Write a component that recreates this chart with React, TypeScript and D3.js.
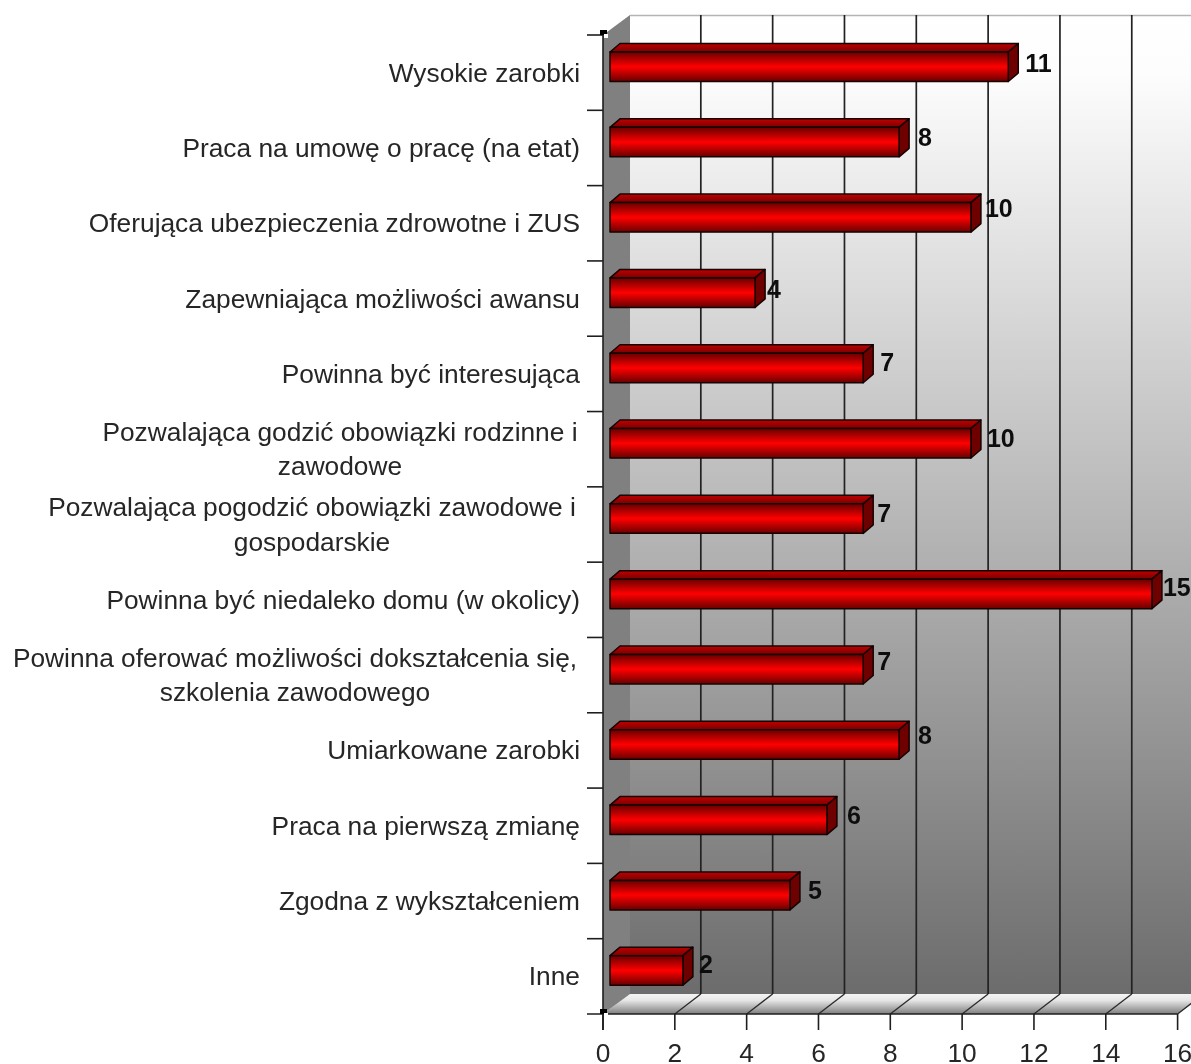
import React from "react";
import * as d3 from "d3";

const categories = [
  "Wysokie zarobki",
  "Praca na umowę o pracę (na etat)",
  "Oferująca ubezpieczenia zdrowotne i ZUS",
  "Zapewniająca możliwości awansu",
  "Powinna być interesująca",
  "Pozwalająca godzić obowiązki rodzinne i|zawodowe",
  "Pozwalająca pogodzić obowiązki zawodowe i|gospodarskie",
  "Powinna być niedaleko domu (w okolicy)",
  "Powinna oferować możliwości dokształcenia się,|szkolenia zawodowego",
  "Umiarkowane zarobki",
  "Praca na pierwszą zmianę",
  "Zgodna z wykształceniem",
  "Inne",
];
const barValues = [11.09, 8.05, 10.05, 4.04, 7.05, 10.05, 7.05, 15.09, 7.05, 8.05, 6.04, 5.01, 2.03];
const valueLabels = ["11", "8", "10", "4", "7", "10", "7", "15", "7", "8", "6", "5", "2"];
const xTicks = [0, 2, 4, 6, 8, 10, 12, 14, 16];

// hand placement of the value labels, relative to the bar end / front top
const labelDx = [7, 9, 4, 2, 7, 6, 4, 1, 4, 9, 10, 8, 6];
const labelDy = [20, 19, 14, 20, 18, 18, 18, 17, 16, 14, 19, 19, 17];

const W = 1191, H = 1064;
const x = d3.scaleLinear().domain([0, 16]).range([603, 1177.6]);
const y = d3.scaleBand<string>().domain(categories).range([35, 1014]);
const depthX = 27, depthY = 20;
const barDX = 7, barTopOff = 17, barH = 29.5, capX = 10, capY = 8.5;
const top = 35, bottom = 1014;
const textCol = "#262626";
const font = "'Liberation Sans', Arial, sans-serif";
const wrapCenters: Record<number, number> = { 5: 340, 6: 312, 8: 295 };

function poly(p: number[][]) {
  return d3.line()(p as [number, number][]) + "Z";
}

export default function App() {
  return (
    <svg width={W} height={H} viewBox={`0 0 ${W} ${H}`} style={{ position: "absolute", left: 0, top: 0, display: "block", background: "#fff" }} fontFamily={font}>
      <defs>
        <linearGradient id="wall" x1="0" y1="0" x2="0" y2="1">
          <stop offset="0" stopColor="#ffffff" />
          <stop offset="0.06" stopColor="#fdfdfd" />
          <stop offset="1" stopColor="#6c6c6c" />
        </linearGradient>
        <linearGradient id="floor" x1="0" y1="0" x2="0" y2="1">
          <stop offset="0" stopColor="#f4f4f4" />
          <stop offset="0.3" stopColor="#e8e8e8" />
          <stop offset="1" stopColor="#7e7e7e" />
        </linearGradient>
        <linearGradient id="front" x1="0" y1="0" x2="0" y2="1">
          <stop offset="0" stopColor="#680000" />
          <stop offset="0.5" stopColor="#ff0000" />
          <stop offset="1" stopColor="#680000" />
        </linearGradient>
        <linearGradient id="cap" x1="0" y1="0" x2="0" y2="1">
          <stop offset="0" stopColor="#c00000" />
          <stop offset="1" stopColor="#7a0000" />
        </linearGradient>
        <filter id="soft" x="-2%" y="-20%" width="104%" height="140%">
          <feGaussianBlur stdDeviation="0.35" />
        </filter>
      </defs>

      <rect x={x(0) + depthX} y={top - depthY} width={W} height={bottom - top} fill="url(#wall)" />
      <line x1={x(0) + depthX} x2={W} y1={top - depthY + 0.5} y2={top - depthY + 0.5} stroke="#b4b4b4" strokeWidth={1.5} />
      {xTicks.slice(1).map((t) => (
        <line key={t} x1={x(t) + depthX - 1} x2={x(t) + depthX - 1} y1={top - depthY} y2={bottom - depthY} stroke="#222" strokeWidth={1.7} />
      ))}
      <path d={poly([[x(0), bottom], [x(0) + depthX, bottom - depthY], [x(16) + depthX, bottom - depthY], [x(16), bottom]])} fill="url(#floor)" />
      {xTicks.slice(1).map((t) => (
        <line key={t} x1={x(t)} x2={x(t) + depthX - 1} y1={bottom} y2={bottom - depthY} stroke="#2a2a2a" strokeWidth={1.3} />
      ))}
      <path d={poly([[x(0), top], [x(0) + depthX, top - depthY], [x(0) + depthX, bottom - depthY], [x(0), bottom]])} fill="#808080" />

      {categories.map((c, i) => {
        const v = barValues[i];
        const x0 = x(0) + barDX;
        const x1 = x(v) + barDX;
        const yt = y(c)! + barTopOff;
        const yb = yt + barH;
        return (
          <g key={c} stroke="#160000" strokeWidth={1.5} strokeLinejoin="round">
            <path d={poly([[x0, yt], [x0 + capX, yt - capY], [x1 + capX, yt - capY], [x1, yt]])} fill="url(#cap)" />
            <path d={poly([[x1, yt], [x1 + capX, yt - capY], [x1 + capX, yb - capY], [x1, yb]])} fill="#6e0000" />
            <rect x={x0} y={yt} width={x1 - x0} height={barH} fill="url(#front)" />
          </g>
        );
      })}

      <g filter="url(#soft)">
        {categories.map((c, i) => {
          const lines = c.split("|");
          const yc = y(c)! + y.bandwidth() / 2;
          const wrapped = lines.length > 1;
          return (
            <text key={c} fontSize={26.3} fill={textCol} textAnchor={wrapped ? "middle" : "end"}>
              {lines.map((l, k) => (
                <tspan key={k} x={wrapped ? wrapCenters[i] : 580} y={wrapped ? yc - 8.5 + k * 34.5 : yc + 9}>{l}</tspan>
              ))}
            </text>
          );
        })}

        {valueLabels.map((t, i) => (
          <text key={i} x={x(barValues[i]) + barDX + capX + labelDx[i]} y={y(categories[i])! + barTopOff + labelDy[i]} fontSize={25} fontWeight="bold" fill="#111">{t}</text>
        ))}

        {xTicks.map((t) => (
          <text key={t} x={x(t)} y={1062} fontSize={26.3} textAnchor="middle" fill={textCol}>{t}</text>
        ))}
      </g>

      <g stroke="#1e1e1e" strokeWidth={1.6} fill="none">
        <line x1={x(0)} x2={x(0)} y1={top} y2={bottom + 16} />
        <line x1={x(0) - 16} x2={x(16)} y1={bottom} y2={bottom} />
        {y.domain().map((c) => (
          <line key={c} x1={x(0) - 16} x2={x(0)} y1={y(c)!} y2={y(c)!} />
        ))}
        {xTicks.map((t) => (
          <line key={t} x1={x(t)} x2={x(t)} y1={bottom} y2={bottom + 16} />
        ))}
      </g>
      {[top, bottom].map((yy) => (
        <g key={yy}>
          <rect x={x(0) - 3} y={yy - 5} width={7} height={5} fill="#000" />
          <rect x={x(0) + 1} y={yy - 1} width={4} height={4} fill="#fff" />
        </g>
      ))}
    </svg>
  );
}
